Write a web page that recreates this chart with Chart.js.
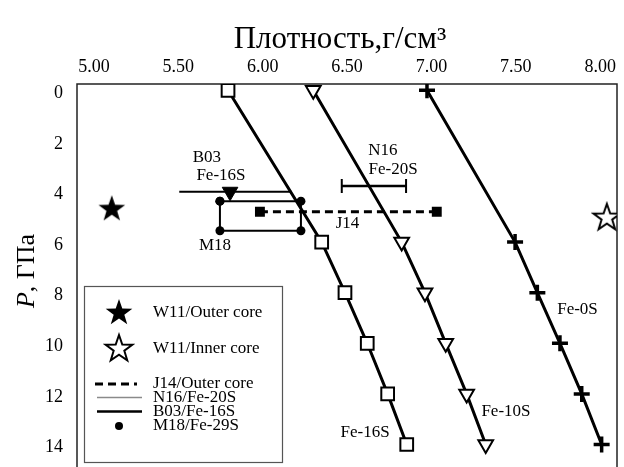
<!DOCTYPE html>
<html>
<head>
<meta charset="utf-8">
<script src="https://cdn.jsdelivr.net/npm/chart.js@4.4.1/dist/chart.umd.min.js"></script>
<style>
  html, body { margin: 0; padding: 0; background: #fff; }
  #wrap { width: 624px; height: 467px; overflow: hidden; }
  canvas { display: block; }
</style>
</head>
<body>
<div id="wrap"><canvas id="c" width="624" height="480"></canvas></div>
<script>
// Pressure levels (GPa) for the calculated density curves
const pressure = [0, 6, 8, 10, 12, 14];
// Density (g/cm3) of Fe-S alloys along each curve
const densFe16S = [5.795, 6.35, 6.488, 6.62, 6.741, 6.854];
const densFe10S = [6.30, 6.824, 6.962, 7.085, 7.209, 7.322];
const densFe0S  = [6.974, 7.496, 7.628, 7.762, 7.891, 8.009];

// Martian core estimates (W11)
const w11Outer = { d: 5.106, p: 4.66 };
const w11Inner = { d: 8.04, p: 5.0 };
// J14 outer core density range
const j14Dens = [5.984, 7.032];
const j14P = 4.8;
// N16 Fe-20S range
const n16Dens = [6.469, 6.85];
const n16P = 3.78;
// B03 Fe-16S
const b03Dens = [5.506, 6.172];
const b03P = 4.01;
const b03Point = 5.807;
// M18 Fe-29S box
const m18Dens = [5.747, 6.227];
const m18P = [4.38, 5.55];

// Axis ticks
const densTicks = [5.0, 5.5, 6.0, 6.5, 7.0, 7.5, 8.0];
const pTicks = [0, 2, 4, 6, 8, 10, 12, 14];

// Text notes placed in data units
const notes = [
  { t: 'B03', d: 5.67, p: 2.64 },
  { t: 'Fe-16S', d: 5.753, p: 3.35 },
  { t: 'M18', d: 5.718, p: 6.15 },
  { t: 'J14', d: 6.503, p: 5.25 },
  { t: 'N16', d: 6.713, p: 2.39 },
  { t: 'Fe-20S', d: 6.773, p: 3.12 },
  { t: 'Fe-16S', d: 6.607, p: 13.53 },
  { t: 'Fe-10S', d: 7.442, p: 12.70 },
  { t: 'Fe-0S', d: 7.866, p: 8.68 }
];

const legendItems = ['W11/Outer core', 'W11/Inner core', 'J14/Outer core', 'N16/Fe-20S', 'B03/Fe-16S', 'M18/Fe-29S'];

const SERIF = '"Liberation Serif", "Times New Roman", serif';

function starPath(ctx, cx, cy, R, r) {
  ctx.beginPath();
  for (let i = 0; i < 10; i++) {
    const rad = -Math.PI / 2 + i * Math.PI / 5;
    const rr = i % 2 === 0 ? R : r;
    const x = cx + Math.cos(rad) * rr, y = cy + Math.sin(rad) * rr;
    if (i === 0) ctx.moveTo(x, y); else ctx.lineTo(x, y);
  }
  ctx.closePath();
}
function makeStar(filled) {
  const c = document.createElement('canvas');
  c.width = 32; c.height = 32;
  const g = c.getContext('2d');
  starPath(g, 16, 17, 14, 5.6);
  if (filled) { g.fillStyle = '#000'; g.fill(); }
  else { g.fillStyle = '#fff'; g.fill(); g.lineWidth = 2; g.strokeStyle = '#000'; g.stroke(); }
  return c;
}
const starFilled = makeStar(true);
const starOpen = makeStar(false);

const pts = (xs, ys) => xs.map((x, i) => ({ x, y: Array.isArray(ys) ? ys[i] : ys }));

const datasets = [
  { label: 'Fe-16S', data: pts(densFe16S, pressure), showLine: true, borderColor: '#000', borderWidth: 3,
    pointStyle: 'rect', pointRadius: 9, pointBackgroundColor: '#fff', pointBorderColor: '#000', pointBorderWidth: 2 },
  { label: 'Fe-10S', data: pts(densFe10S, pressure), showLine: true, borderColor: '#000', borderWidth: 3,
    pointStyle: 'triangle', rotation: 180, pointRadius: 8.5, pointBackgroundColor: '#fff', pointBorderColor: '#000', pointBorderWidth: 2 },
  { label: 'Fe-0S', data: pts(densFe0S, pressure), showLine: true, borderColor: '#000', borderWidth: 3,
    pointStyle: 'cross', pointRadius: 8, pointBorderColor: '#000', pointBorderWidth: 3.5 },
  { label: 'W11/Outer core', data: [{ x: w11Outer.d, y: w11Outer.p }], pointStyle: starFilled, pointRadius: 16 },
  { label: 'W11/Inner core', data: [{ x: w11Inner.d, y: w11Inner.p }], pointStyle: starOpen, pointRadius: 16 },
  { label: 'J14/Outer core', data: pts(j14Dens, j14P), showLine: true, borderColor: '#000', borderWidth: 3, borderDash: [8, 5],
    pointStyle: 'rect', pointRadius: 7, pointBackgroundColor: '#000', pointBorderColor: '#000', pointBorderWidth: 0 },
  { label: 'N16/Fe-20S', data: pts(n16Dens, n16P), showLine: true, borderColor: '#000', borderWidth: 2.5,
    pointStyle: 'line', rotation: 90, pointRadius: 7, pointBorderColor: '#000', pointBorderWidth: 2 },
  { label: 'B03/Fe-16S', data: pts(b03Dens, b03P), showLine: true, borderColor: '#000', borderWidth: 2, pointRadius: 0 },
  { label: 'B03 point', data: [{ x: b03Point, y: b03P }], pointStyle: 'triangle', rotation: 180, pointRadius: 9,
    pointBackgroundColor: '#000', pointBorderColor: '#000', pointBorderWidth: 1 },
  { label: 'M18/Fe-29S', data: [
      { x: m18Dens[0], y: m18P[0] }, { x: m18Dens[1], y: m18P[0] },
      { x: m18Dens[1], y: m18P[1] }, { x: m18Dens[0], y: m18P[1] }, { x: m18Dens[0], y: m18P[0] }],
    showLine: true, borderColor: '#000', borderWidth: 2,
    pointStyle: 'circle', pointRadius: 4.5, pointBackgroundColor: '#000', pointBorderColor: '#000', pointBorderWidth: 0 }
];

// Frame, titles, notes and legend box
const decor = {
  id: 'decor',
  beforeDatasetsDraw(chart) {
    const { ctx, chartArea: a } = chart;
    ctx.save();
    ctx.strokeStyle = '#222';
    ctx.lineWidth = 1.5;
    ctx.strokeRect(a.left, a.top, a.right - a.left, a.bottom - a.top);
    ctx.restore();
  },
  afterDatasetsDraw(chart) {
    const { ctx, scales } = chart;
    const sx = scales.x, sy = scales.y;
    ctx.save();
    ctx.fillStyle = '#000';
    // x title
    ctx.font = '31px ' + SERIF;
    ctx.textAlign = 'center';
    ctx.textBaseline = 'alphabetic';
    ctx.fillText('Плотность,г/см³', 340, 48);
    // y title, italic P
    ctx.translate(34, 271);
    ctx.rotate(-Math.PI / 2);
    const partA = 'P', partB = ', ГПа';
    ctx.font = 'italic 26px ' + SERIF;
    const wA = ctx.measureText(partA).width;
    ctx.font = '26px ' + SERIF;
    const wB = ctx.measureText(partB).width;
    let x0 = -(wA + wB) / 2;
    ctx.textAlign = 'left';
    ctx.font = 'italic 26px ' + SERIF;
    ctx.fillText(partA, x0, 0);
    ctx.font = '26px ' + SERIF;
    ctx.fillText(partB, x0 + wA, 0);
    ctx.restore();

    // notes
    ctx.save();
    ctx.fillStyle = '#000';
    ctx.font = '17px ' + SERIF;
    ctx.textAlign = 'center';
    ctx.textBaseline = 'middle';
    notes.forEach(n => ctx.fillText(n.t, sx.getPixelForValue(n.d), sy.getPixelForValue(n.p)));
    ctx.restore();

    // legend
    ctx.save();
    const L = 84, T = 286, W = 198, H = 176;
    ctx.fillStyle = '#fff';
    ctx.fillRect(L, T, W, H);
    ctx.strokeStyle = '#555';
    ctx.lineWidth = 1.2;
    ctx.strokeRect(L + 0.5, T + 0.5, W, H);
    const rows = [313, 349, 384, 397.5, 411.5, 426];
    const tx = 153, sxm = 119;
    ctx.drawImage(starFilled, sxm - 16, rows[0] - 17);
    ctx.drawImage(starOpen, sxm - 16, rows[1] - 17);
    ctx.lineCap = 'butt';
    ctx.strokeStyle = '#000';
    ctx.lineWidth = 3;
    ctx.setLineDash([8, 5]);
    ctx.beginPath(); ctx.moveTo(95, rows[2]); ctx.lineTo(137, rows[2]); ctx.stroke();
    ctx.setLineDash([]);
    ctx.strokeStyle = '#8a8a8a';
    ctx.lineWidth = 1.5;
    ctx.beginPath(); ctx.moveTo(97, rows[3]); ctx.lineTo(142, rows[3]); ctx.stroke();
    ctx.strokeStyle = '#000';
    ctx.lineWidth = 2.5;
    ctx.beginPath(); ctx.moveTo(97, rows[4]); ctx.lineTo(142, rows[4]); ctx.stroke();
    ctx.fillStyle = '#000';
    ctx.beginPath(); ctx.arc(sxm, rows[5], 4, 0, Math.PI * 2); ctx.fill();
    ctx.font = '17px ' + SERIF;
    ctx.textAlign = 'left';
    ctx.textBaseline = 'middle';
    legendItems.forEach((t, i) => ctx.fillText(t, tx, rows[i]));
    ctx.restore();
  }
};

new Chart(document.getElementById('c'), {
  type: 'scatter',
  data: { datasets },
  options: {
    responsive: false,
    animation: false,
    devicePixelRatio: 1,
    layout: { autoPadding: false, padding: { left: 0, top: 0, right: 7, bottom: 10.2 } },
    plugins: { legend: { display: false }, tooltip: { enabled: false } },
    scales: {
      x: {
        type: 'linear', position: 'top', min: 4.9, max: 8.1,
        afterFit: s => { s.height = 84; s.paddingLeft = 0; s.paddingRight = 0; },
        afterBuildTicks: s => { s.ticks = densTicks.map(v => ({ value: v })); },
        grid: { display: false, drawTicks: false },
        border: { display: false },
        ticks: { color: '#000', padding: 6, font: { family: SERIF, size: 18 }, callback: v => Number(v).toFixed(2) }
      },
      y: {
        type: 'linear', reverse: true, min: -0.25, max: 15,
        afterFit: s => { s.width = 77; s.paddingTop = 0; s.paddingBottom = 0; },
        afterBuildTicks: s => { s.ticks = pTicks.map(v => ({ value: v })); },
        grid: { display: false, drawTicks: false },
        border: { display: false },
        ticks: { color: '#000', padding: 14, labelOffset: 3, font: { family: SERIF, size: 18 } }
      }
    }
  },
  plugins: [decor]
});
</script>
</body>
</html>
